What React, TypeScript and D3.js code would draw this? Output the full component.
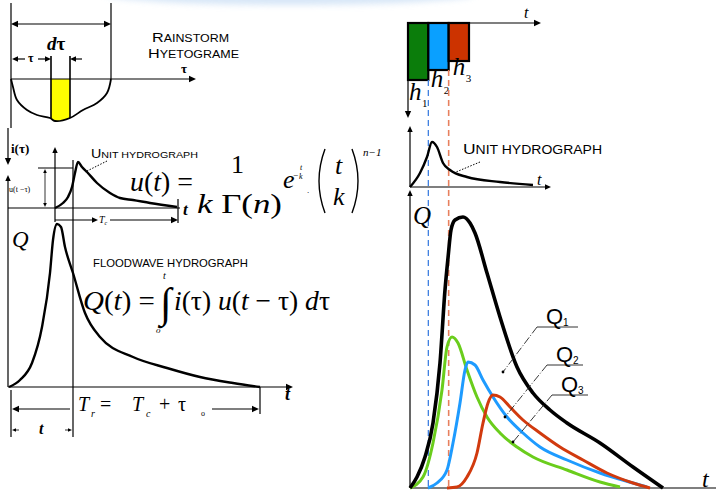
import React from "react";
import * as d3 from "d3";

const W = 716;
const H = 494;

// ---------- Left: rainstorm hyetograph (bowl under the τ axis)
const bowlTau = [0, 0.2, 0.6, 1.6, 2.6, 3.9, 4.4, 5.9, 7.2, 8.6, 9.6, 10];
const bowlDepth = [0, 0.8, 2.1, 3.1, 3.6, 3.9, 4.2, 3.9, 3.1, 2.4, 1.4, 0];
const sliceTau = [4.0, 5.9];

// ---------- Left: unit hydrograph
const luT = [0, 0.8, 1.3, 1.7, 2.0, 2.3, 2.7, 3.2, 4.2, 5.5, 6.5, 7.8, 9.5, 12.2];
const luU = [0, 0.5, 1.1, 2.1, 3.5, 4.6, 4.1, 3.6, 2.5, 1.5, 1.0, 0.8, 0.5, 0.1];
const luMarkT = 1.8;
const luMarkU = 4.0;
const luEndT = 12.3;

// ---------- Left: flood wave hydrograph
const lqT = [0, 1.1, 2.3, 3.3, 4.1, 4.4, 4.8, 5.2, 5.6, 6.4, 7.6, 9.1, 12.4, 15.8, 19.1, 22.4, 25.1];
const lqQ = [0, 0.7, 2.4, 6.0, 11.4, 14.7, 16.3, 16.0, 14.0, 11.4, 7.4, 5.0, 3.0, 1.9, 1.0, 0.4, 0];
const lqMarkT = 6.4;
const lqEndT = 25.1;

// ---------- Right: rainfall blocks
const rainIdx = ["1", "2", "3"];
const rainDepth = [5.7, 4.7, 3.8];
const rainColors = ["#0b7d0b", "#0aa0ff", "#cc3300"];

// ---------- Right: unit hydrograph
const ruT = [0, 1, 1.7, 2.2, 2.7, 3.3, 4, 5.7, 9, 12.3];
const ruU = [0, 1.4, 3, 4.5, 4, 2.4, 1.7, 1, 0.5, 0.2];

// ---------- Right: component hydrographs
const totalT = [0, 0.7, 1.5, 2.3, 3, 3.5, 3.8, 4.1, 4.5, 5.3, 6.0, 6.5, 7.7, 9, 10.7, 12.3, 14, 15.7, 19, 22.3, 25.3];
const totalQ = [0, 1.1, 3.1, 6.5, 12.5, 19.8, 23, 25.8, 26.8, 27.1, 26.5, 25.5, 21.5, 17.1, 12.1, 9.5, 7.8, 6.5, 4.5, 2.1, 0];
const greenT = [0, 1.3, 2.3, 3.2, 3.7, 4.2, 4.8, 5.7, 6.7, 7.7, 9, 10.7, 12.3, 15.7, 19, 21];
const greenQ = [0, 1.1, 4.5, 9.8, 14.1, 15.1, 14.5, 11.8, 9.1, 7.1, 5.5, 4.1, 3.1, 1.8, 0.6, 0.1];
const blueT = [1.8, 2.7, 3.7, 4.3, 5, 5.5, 5.8, 6.5, 7.3, 8.3, 9.7, 11.3, 13, 15.7, 19, 22.3, 23.7];
const blueQ = [0, 0.5, 1.8, 4.5, 8.5, 11.8, 12.6, 12.3, 10.8, 9.1, 7.1, 5.5, 4.1, 2.8, 1.5, 0.5, 0.1];
const redT = [3.7, 4.7, 5.7, 6.7, 7.3, 7.8, 8.3, 9, 10, 11.3, 13, 15, 17.3, 19.7, 22.3, 24];
const redQ = [0, 0.1, 1.1, 3.5, 6.5, 8.5, 9.3, 9.1, 8.1, 6.8, 5.5, 4.1, 2.8, 1.5, 0.5, 0];

const qLabels = ["1", "2", "3"];
const qLabelAt = [[12.7, 16.1], [13.7, 12.3], [14.2, 9.3]]; // underline start (t, q)
const qLabelEnd = [16.8, 17.3, 17.8]; // underline end t
const qLeaderEnd = [[9.3, 11.6], [9.5, 7.1], [10.3, 4.6]];

const serif = "'Liberation Serif', 'Times New Roman', Times, serif";
const sans = "'Liberation Sans', Arial, sans-serif";

function Arrow({ x, y, dir, s = 7 }: { x: number; y: number; dir: string; s?: number }) {
  const w = s * 0.45;
  let p = "";
  if (dir === "right") p = `${x},${y} ${x - s},${y - w} ${x - s},${y + w}`;
  if (dir === "left") p = `${x},${y} ${x + s},${y - w} ${x + s},${y + w}`;
  if (dir === "up") p = `${x},${y} ${x - w},${y + s} ${x + w},${y + s}`;
  if (dir === "down") p = `${x},${y} ${x - w},${y - s} ${x + w},${y - s}`;
  return <polygon points={p} fill="#000" />;
}

function L({ x1, y1, x2, y2, w = 1.2, c = "#000", dash }: any) {
  return <line x1={x1} y1={y1} x2={x2} y2={y2} stroke={c} strokeWidth={w} strokeDasharray={dash} />;
}

export default function App() {
  const xLH = d3.scaleLinear().domain([0, 10]).range([11, 111]);
  const yLH = d3.scaleLinear().domain([0, 5]).range([79, 129]);
  const xLU = d3.scaleLinear().domain([0, 15]).range([55, 205]);
  const yLU = d3.scaleLinear().domain([0, 6]).range([208, 148]);
  const xL = d3.scaleLinear().domain([0, 30]).range([9, 309]);
  const yL = d3.scaleLinear().domain([0, 20]).range([387, 187]);

  const xRain = d3.scaleLinear().domain([0, 3]).range([408, 469]);
  const yRain = d3.scaleLinear().domain([0, 6]).range([23, 83]);
  const xR = d3.scaleLinear().domain([0, 30]).range([410, 710]);
  const yRU = d3.scaleLinear().domain([0, 5]).range([187, 137]);
  const yR = d3.scaleLinear().domain([0, 30]).range([488, 188]);

  const bowlAt = d3.scaleLinear().domain(bowlTau).range(bowlDepth);

  const zip = (a: number[], b: number[]) => a.map((v, i) => [v, b[i]] as [number, number]);
  const mk = (xs: any, ys: any) =>
    d3.line<[number, number]>().x((d) => xs(d[0])).y((d) => ys(d[1])).curve(d3.curveMonotoneX);

  const bowlLine = d3
    .line<[number, number]>()
    .x((d) => xLH(d[0]))
    .y((d) => yLH(d[1]))
    .curve(d3.curveCatmullRom.alpha(0.5));
  const bowlArea = d3
    .area<[number, number]>()
    .x((d) => xLH(d[0]))
    .y0(yLH(0))
    .y1((d) => yLH(d[1]))
    .curve(d3.curveCatmullRom.alpha(0.5));
  const bowlData = zip(bowlTau, bowlDepth);

  const series = [
    { t: greenT, q: greenQ, c: "#6acd1c", w: 3 },
    { t: blueT, q: blueQ, c: "#1e9bff", w: 3 },
    { t: redT, q: redQ, c: "#d13a0e", w: 3 },
    { t: totalT, q: totalQ, c: "#000", w: 3.6 },
  ];

  const it = { fontStyle: "italic" } as any;

  return (
    <svg
      width={W}
      height={H}
      viewBox={`0 0 ${W} ${H}`}
      style={{ position: "absolute", left: 0, top: 0, background: "#fff" }}
    >
      <defs>
        <filter id="blur" x="-20%" y="-200%" width="140%" height="500%">
          <feGaussianBlur stdDeviation="3" />
        </filter>
        <clipPath id="slice">
          <rect x={xLH(sliceTau[0])} y={0} width={xLH(sliceTau[1]) - xLH(sliceTau[0])} height={200} />
        </clipPath>
      </defs>
      <rect width={W} height={H} fill="#fff" />
      <ellipse cx={290} cy={-6} rx={185} ry={11} fill="#c9def4" opacity={0.75} filter="url(#blur)" />

      {/* ================= LEFT: hyetograph ================= */}
      <L x1={11} y1={3} x2={11} y2={128} />
      <L x1={111} y1={3} x2={111} y2={79} />
      <L x1={13} y1={24} x2={109} y2={24} />
      <Arrow x={11} y={24} dir="left" />
      <Arrow x={111} y={24} dir="right" />
      <text x={47} y={50} fontFamily={serif} fontSize={19} fontWeight="bold">
        <tspan style={it}>d</tspan>τ
      </text>
      <L x1={14} y1={59} x2={25} y2={59} />
      <Arrow x={12} y={59} dir="left" s={6} />
      <text x={28} y={62} fontFamily={serif} fontSize={12} fontWeight="bold">τ</text>
      <L x1={38} y1={59} x2={47} y2={59} />
      <Arrow x={51} y={59} dir="right" s={6} />
      <L x1={73} y1={59} x2={82} y2={59} />
      <Arrow x={70} y={59} dir="left" s={6} />
      <g clipPath="url(#slice)">
        <path d={bowlArea(bowlData) || ""} fill="#ffff00" />
      </g>
      <L x1={xLH(sliceTau[0])} y1={56} x2={xLH(sliceTau[0])} y2={yLH(bowlAt(sliceTau[0]))} w={1.6} />
      <L x1={xLH(sliceTau[1])} y1={56} x2={xLH(sliceTau[1])} y2={yLH(bowlAt(sliceTau[1]))} w={1.6} />
      <path d={bowlLine(bowlData) || ""} fill="none" stroke="#000" strokeWidth={1.8} />
      <L x1={11} y1={79} x2={190} y2={79} />
      <Arrow x={196} y={79} dir="right" />
      <text x={181} y={73} fontFamily={serif} fontSize={13} fontWeight="bold">τ</text>
      <text x={152} y={42} fontFamily={sans} fontSize={10} textLength={77} lengthAdjust="spacingAndGlyphs">
        <tspan fontSize={13}>R</tspan>AINSTORM
      </text>
      <text x={148} y={58} fontFamily={sans} fontSize={10} textLength={91} lengthAdjust="spacingAndGlyphs">
        <tspan fontSize={13}>H</tspan>YETOGRAME
      </text>

      {/* ================= LEFT: unit hydrograph ================= */}
      <L x1={8} y1={128} x2={8} y2={159} />
      <Arrow x={8} y={165} dir="down" />
      <text x={11} y={153} fontFamily={serif} fontSize={13} fontWeight="bold">i(τ)</text>
      <L x1={8} y1={181} x2={8} y2={387} />
      <Arrow x={8} y={175} dir="up" s={6} />
      <L x1={xLU(0)} y1={153} x2={xLU(0)} y2={222} />
      <Arrow x={xLU(0)} y={147} dir="up" s={6} />
      <L x1={8} y1={yLU(0)} x2={180} y2={yLU(0)} />
      <L x1={xLU(luEndT)} y1={199} x2={xLU(luEndT)} y2={223} />
      <text x={183} y={215} fontFamily={serif} fontSize={17} fontWeight="bold" style={it}>t</text>
      <L x1={xLU(luMarkT)} y1={160} x2={xLU(luMarkT)} y2={437} />
      <L x1={38} y1={yLU(luMarkU)} x2={xLU(luMarkT)} y2={yLU(luMarkU)} />
      <L x1={45} y1={173} x2={45} y2={203} w={0.8} />
      <Arrow x={45} y={169} dir="up" s={4} />
      <Arrow x={45} y={207} dir="down" s={4} />
      <text x={9} y={192} fontFamily={serif} fontSize={8}>u(t −τ)</text>
      <path d={mk(xLU, yLU)(zip(luT, luU)) || ""} fill="none" stroke="#000" strokeWidth={2.4} />
      <L x1={xLU(0)} y1={220} x2={93} y2={220} />
      <Arrow x={98} y={220} dir="right" s={6} />
      <text x={99} y={223} fontFamily={serif} fontSize={10} style={it}>
        T<tspan fontSize={6} dy={2}>c</tspan>
      </text>
      <L x1={110} y1={220} x2={172} y2={220} />
      <Arrow x={xLU(luEndT)} y={220} dir="right" />
      <text x={91} y={158} fontFamily={sans} fontSize={9} textLength={107} lengthAdjust="spacingAndGlyphs">
        <tspan fontSize={12}>U</tspan>NIT HYDROGRAPH
      </text>
      <L x1={107} y1={161} x2={85} y2={172} w={1} dash="1.5,1.5" />

      {/* u(t) formula */}
      <text x={130} y={191} fontFamily={serif} fontSize={28} textLength={63} lengthAdjust="spacingAndGlyphs">
        <tspan style={it}>u</tspan>(<tspan style={it}>t</tspan>) =
      </text>
      <text x={231} y={173} fontFamily={serif} fontSize={26}>1</text>
      <text x={197} y={213} fontFamily={serif} fontSize={28} textLength={85} lengthAdjust="spacingAndGlyphs">
        <tspan style={it}>k</tspan> Γ(<tspan style={it}>n</tspan>)
      </text>
      <text x={283} y={188} fontFamily={serif} fontSize={26} style={it}>e</text>
      <text x={293} y={178} fontFamily={serif} fontSize={9}>−</text>
      <text x={300} y={170} fontFamily={serif} fontSize={8} style={it}>t</text>
      <text x={299} y={179} fontFamily={serif} fontSize={8} style={it}>k</text>
      <text x={307} y={193} fontFamily={serif} fontSize={9}>.</text>
      <path d="M325,149 Q313,181 325,213" fill="none" stroke="#000" strokeWidth={1.4} />
      <path d="M352,149 Q364,181 352,213" fill="none" stroke="#000" strokeWidth={1.4} />
      <text x={335} y={174} fontFamily={serif} fontSize={26} style={it}>t</text>
      <text x={333} y={205} fontFamily={serif} fontSize={26} style={it}>k</text>
      <text x={363} y={156} fontFamily={serif} fontSize={11} style={it}>
        n−1
      </text>

      {/* ================= LEFT: flood wave hydrograph ================= */}
      <text x={12} y={247} fontFamily={serif} fontSize={23} style={it}>Q</text>
      <path d={mk(xL, yL)(zip(lqT, lqQ)) || ""} fill="none" stroke="#000" strokeWidth={2.4} />
      <L x1={8} y1={yL(0)} x2={288} y2={yL(0)} />
      <Arrow x={293} y={yL(0)} dir="right" />
      <text x={285} y={400} fontFamily={serif} fontSize={18} fontWeight="bold" style={it}>t</text>
      <L x1={xL(lqEndT)} y1={yL(0)} x2={xL(lqEndT)} y2={414} />
      <L x1={11} y1={390} x2={11} y2={437} />
      <L x1={17} y1={409} x2={70} y2={409} />
      <Arrow x={12} y={409} dir="left" />
      <L x1={212} y1={409} x2={253} y2={409} />
      <Arrow x={xL(lqEndT) - 1} y={409} dir="right" />
      <text x={78} y={411} fontFamily={serif} fontSize={20} style={it}>T</text>
      <text x={91} y={417} fontFamily={serif} fontSize={10} style={it}>r</text>
      <text x={100} y={411} fontFamily={serif} fontSize={20}>=</text>
      <text x={132} y={411} fontFamily={serif} fontSize={20} style={it}>T</text>
      <text x={146} y={417} fontFamily={serif} fontSize={10} style={it}>c</text>
      <text x={159} y={411} fontFamily={serif} fontSize={20}>+</text>
      <text x={178} y={411} fontFamily={serif} fontSize={20}>τ</text>
      <text x={201} y={416} fontFamily={serif} fontSize={8}>o</text>
      <L x1={16} y1={430} x2={19} y2={430} w={0.8} />
      <Arrow x={12} y={430} dir="left" s={4} />
      <L x1={65} y1={430} x2={69} y2={430} w={0.8} />
      <Arrow x={72} y={430} dir="right" s={4} />
      <text x={39} y={434} fontFamily={serif} fontSize={16} fontWeight="bold" style={it}>t</text>
      <text x={93} y={267} fontFamily={sans} fontSize={11} textLength={155} lengthAdjust="spacingAndGlyphs">
        FLOODWAVE HYDROGRAPH
      </text>
      {/* Q(t) formula */}
      <text x={83} y={310} fontFamily={serif} fontSize={28} textLength={72} lengthAdjust="spacingAndGlyphs">
        <tspan style={it}>Q</tspan>(<tspan style={it}>t</tspan>) =
      </text>
      <text x={160} y={317} fontFamily={serif} fontSize={42}>∫</text>
      <text x={163} y={279} fontFamily={serif} fontSize={10} style={it}>t</text>
      <text x={156} y={333} fontFamily={serif} fontSize={9} style={it}>o</text>
      <text x={174} y={310} fontFamily={serif} fontSize={28} textLength={156} lengthAdjust="spacingAndGlyphs">
        <tspan style={it}>i</tspan>(τ) <tspan style={it}>u</tspan>(<tspan style={it}>t</tspan> − τ) <tspan style={it}>d</tspan>τ
      </text>

      {/* ================= RIGHT: rainfall blocks ================= */}
      <L x1={xRain(0)} y1={yRain(0)} x2={535} y2={yRain(0)} />
      <Arrow x={541} y={yRain(0)} dir="right" />
      <text x={524} y={18} fontFamily={serif} fontSize={16} style={it}>t</text>
      {rainDepth.map((d, i) => (
        <rect
          key={i}
          x={xRain(i)}
          y={yRain(0)}
          width={xRain(i + 1) - xRain(i)}
          height={yRain(d) - yRain(0)}
          fill={rainColors[i]}
          stroke="#000"
          strokeWidth={2.2}
        />
      ))}
      {rainIdx.map((s, i) => (
        <g key={s}>
          <text x={xRain(i) + 1 + i * 1.5} y={yRain(rainDepth[i]) + 20 - i * 3} fontFamily={serif} fontSize={25} style={it}>
            h
          </text>
          <text x={xRain(i) + 14 + i * 1.5} y={yRain(rainDepth[i]) + 27 - i * 3} fontFamily={serif} fontSize={11}>
            {s}
          </text>
        </g>
      ))}
      <L x1={408} y1={yRain(rainDepth[0])} x2={408} y2={112} />
      <Arrow x={408} y={118} dir="down" />
      <L x1={xRain(1)} y1={yRain(rainDepth[0])} x2={xRain(1)} y2={490} c="#3f7fe0" w={1.3} dash="6,4" />
      <L x1={xRain(2)} y1={yRain(rainDepth[1])} x2={xRain(2)} y2={490} c="#e8805e" w={1.6} dash="6,4" />

      {/* ================= RIGHT: unit hydrograph ================= */}
      <L x1={xR(0)} y1={131} x2={xR(0)} y2={yRU(0)} />
      <Arrow x={xR(0)} y={126} dir="up" s={6} />
      <L x1={xR(0)} y1={yRU(0)} x2={546} y2={yRU(0)} />
      <Arrow x={551} y={yRU(0)} dir="right" s={6} />
      <text x={537} y={185} fontFamily={serif} fontSize={16} style={it}>t</text>
      <path d={mk(xR, yRU)(zip(ruT, ruU)) || ""} fill="none" stroke="#000" strokeWidth={2.4} />
      <text x={463} y={154} fontFamily={sans} fontSize={12} textLength={139} lengthAdjust="spacingAndGlyphs">
        <tspan fontSize={15}>U</tspan>NIT HYDROGRAPH
      </text>
      <L x1={480} y1={162} x2={456} y2={172} w={1} dash="1.5,1.5" />

      {/* ================= RIGHT: flood hydrographs ================= */}
      <L x1={xR(0)} y1={195} x2={xR(0)} y2={yR(0)} />
      <Arrow x={xR(0)} y={190} dir="up" s={6} />
      <text x={413} y={224} fontFamily={serif} fontSize={25} style={it}>Q</text>
      <L x1={xR(0)} y1={yR(0)} x2={716} y2={yR(0)} />
      <text x={702} y={487} fontFamily={serif} fontSize={24} style={it}>t</text>
      {series.map((s, i) => (
        <path
          key={i}
          d={mk(xR, yR)(zip(s.t, s.q)) || ""}
          fill="none"
          stroke={s.c}
          strokeWidth={s.w}
          strokeLinejoin="round"
        />
      ))}
      {qLabels.map((s, i) => {
        const [lt, lq] = qLabelAt[i];
        const [et, eq] = qLeaderEnd[i];
        const x0 = xR(lt);
        const y0 = yR(lq);
        return (
          <g key={s}>
            <L x1={x0} y1={y0} x2={xR(qLabelEnd[i])} y2={y0} w={1} c="#333" />
            <L x1={x0} y1={y0} x2={xR(et)} y2={yR(eq)} w={0.9} c="#222" dash="8,2,1,2" />
            <circle cx={xR(et)} cy={yR(eq)} r={1.4} fill="#000" />
            <text x={x0 + 9} y={y0 - 3} fontFamily={sans} fontSize={22}>
              Q
            </text>
            <text x={x0 + 26} y={y0 - 1} fontFamily={sans} fontSize={10}>
              {s}
            </text>
          </g>
        );
      })}
    </svg>
  );
}
